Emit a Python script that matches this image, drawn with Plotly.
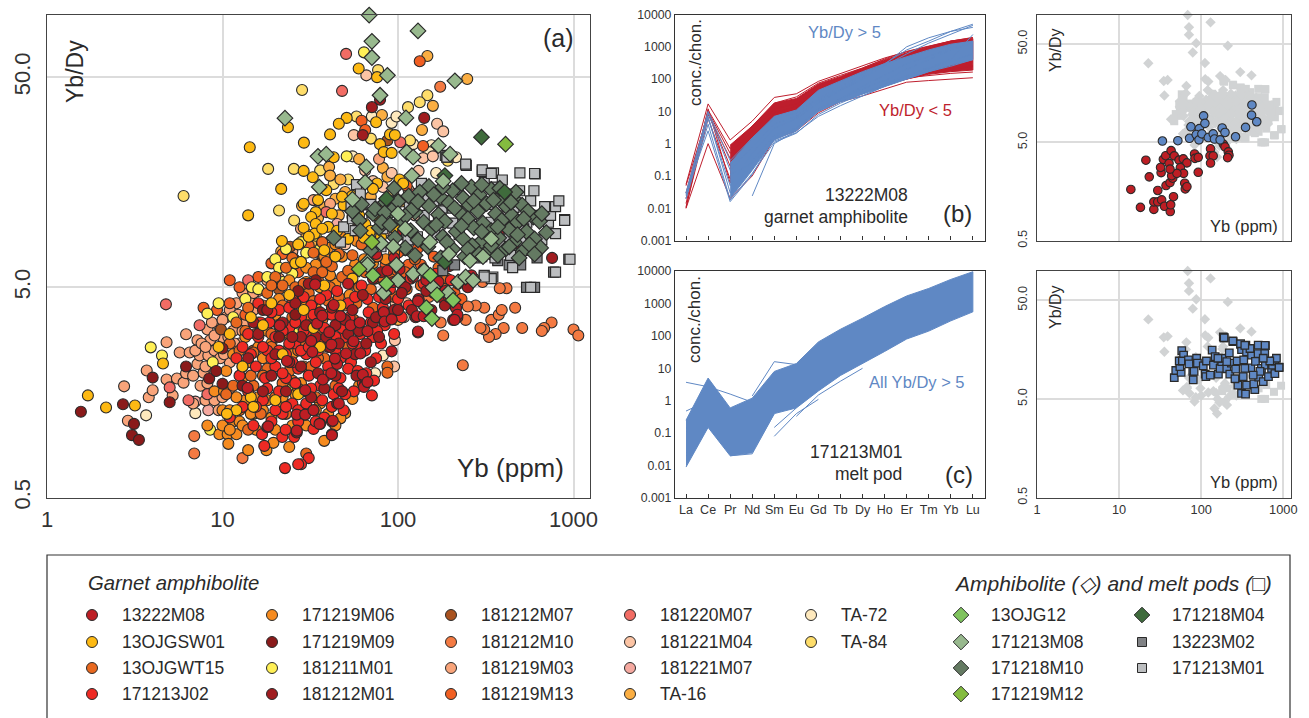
import plotly.graph_objects as go

W, H = 1309, 718
FONT = "Liberation Sans"
INK = "#2a2a2a"

# ---------- Panel (a): (Yb ppm, Yb/Dy) ----------
M08 = [(13.9,1.66),(18.2,1.09),(21.2,3.29),(23.3,2.23),(29.6,1.62),(26.5,1.04),(26.5,1.24),(29.6,1.24),(33,1.3),(35.7,1.12),
 (42,.99),(42.5,1.16),(46,1.4),(37.3,1.82),(41.7,1.95),(45,2.16),(43.7,2.29),(32.5,2.46),(32,2.78),(34.6,3.36),(37,3.66),
 (43,4.12),(47,3.64),(40.6,3.06),(53.7,3.3),(60.5,3.4),(67,3.09),(55.8,2.77),(61,2.42),(50.6,2.42),(41.7,2.67),(63,1.92),
 (64,1.68),(67,1.77),(83,3.81),(84,3.44),(92,3.52),(92,2.48),(130,4.3),(128,3.64),(140,3.64),(130,3.08),(186,4.8),(195,4.5),
 (214,4.0),(218,3.7),(210,3.5),
 (33.7,5.16),(52,5.2),(72,5.5),(75,7.2),(95,6.9),(87,6),(94,5.3),(102,6.1),(107,9.3),(111,7.8),(122,5.6),(140,6.1),(145,5.4),
 (170,5.3),(180,7),(195,6.3),(262,5.7),(347,7.1),(411,9.45),(415,12),(475,8.1)]
J02 = [(11,1.2),(12,2.3),(13,2.6),(12.5,1.9),(14,1.6),(14,3.0),(15,1.1),(15.5,2.1),(16,2.9),(16,4.2),(17,1.45),(17.5,1.85),(18,2.5),
 (18.5,3.4),(19,1.15),(20,2.1),(20,2.9),(21,1.6),(21,3.9),(22,1.25),(23,2.4),(23,1.85),(24,3.2),(25,4.4),(25,1.4),(26,2.7),(27,2.05),
 (27,1.15),(28,3.6),(29,1.6),(30,2.4),(30,2.95),(31,1.9),(32,4.1),(33,1.3),(34,2.2),(35,3.4),(36,1.7),(37,2.7),(38,1.2),(39,4.6),
 (40,2.1),(41,3.1),(43,1.55),(44,2.5),(46,3.7),(47,1.85),(49,1.3),(50,2.9),(52,4.2),(54,2.2),(56,1.6),(58,3.3),(60,2.6),(62,5.1),
 (66,1.95),(68,3.8),(72,2.9),(75,2.3),(78,4.5),(84,3.3),(90,4.9),(100,4.4),(118,5.5),(140,5.2),(165,5.8),(200,5.4),(71,1.53),(33,1.06),
 (31,.77),(28,.72),(22.7,.69),(27,.72),(17.3,.88),(16.8,1),(21.9,.97),(22.9,1.05),(25.6,.97),(42,1.15),
 (13,1.35),(14.5,2.4),(15.5,1.35),(16.5,3.4),(17,2.6),(18,1.65),(19,2.3),(19,3.8),(20,1.3),(21,2.5),(22,3.1),(22,1.95),(23,1.35),(24,2.7),(24,4),(25,2.2),
 (26,1.75),(26,3.4),(27,1.3),(28,2.5),(29,3.1),(29,4.5),(30,1.4),(31,2.6),(32,1.65),(33,3.7),(34,1.15),(35,2.5),(36,4.4),(37,1.45),(38,3.2),(39,1.9),(40,2.6),
 (42,1.35),(42,3.7),(44,2.9),(45,4.8),(46,1.65),(47,2.3),(48,3.2),(50,1.55),(52,2.05),(53,3.6),(55,2.7),(57,4.5),(59,2),(61,3),(63,1.75),(65,2.5),(67,4.4),
 (70,3.4),(73,1.8),(76,3.1),(80,2.7),(82,4),(88,3.7),(95,3),(105,3.6),(115,4.1),(160,4.7)]
M01_12 = [(16,3),(19,1.9),(22,3.4),(24,2.2),(28,2.9),(31,5.2),(36,3.8),(41,2.6),(44,1.9),(50,3.5),(57,2.4),(63,4.6),(72,3.4),(80,5.9),
 (95,3.9),(110,5),(126,3.6),(175,4.5),(206,3.5),(218,3.6),(214,4),(131,4.4),(130,3.05),(65,1.74),(62,1.9),(45,1.4),(42,1),(36,1.12),
 (18,1.08),(26.5,1.02),(755,6.9),(79,39),(71,36),(141,32),(63,26.5),(240,5.5),
 (14,2.3),(15,3.4),(17,1.6),(18,3.9),(20,2.4),(23,1.6),(25,2.9),(26,4.2),(28,2.1),(30,3.3),(32,1.5),(34,2.9),(35,1.95),(38,1.65),(39,2.9),(42,4),(44,3.3),
 (46,2.7),(48,1.6),(52,3),(55,3.9),(58,1.9),(60,3.1),(66,2.7),(70,2.2),(75,3.6),(78,2.9),(85,4.4),(100,3.9),(105,4.7),(120,3.9),(155,3.9),(145,4.8),(185,4.1),(250,5)]
M09 = [(1.56,1.28),(2.71,1.39),(3.13,1.12),(3.05,.99),(3.34,.94),(4,1.86),(5,1.42),(6.2,2.1),(8.4,1.84),(9.2,2),(10,1.74),(10,2.56),
 (13,1.7),(17,3.9),(21,2.9),(26,3.7),(27,4.8),(34,5.4)]
WT15 = [(10.5,1.55),(11,2.7),(12,3.4),(12.5,1.3),(13,2.1),(14,1.05),(14,4),(15,2.45),(15,1.7),(16,3.4),(16.5,1.25),(18,4.7),(18,2.05),
 (19,3),(20,1.5),(20,5.6),(21,2.4),(22,4.1),(23,1.25),(23,6.2),(24,3),(25,1.8),(26,5),(27,2.5),(28,6.6),(28,1.3),(30,3.6),(31,4.7),
 (32,2.1),(33,7.3),(34,1.5),(35,5.4),(36,3),(37,8.2),(38,2.3),(40,4.3),(42,6.3),(44,1.7),(45,3.3),(48,5.6),(52,2.6),(55,7.1),(58,4.2),
 (62,3.1),(65,5.9),(70,4.9),(76,7),(82,3.9),(90,5.5),(100,6.3),(112,4.9),(125,6.8),(145,5.6),(170,6.2),(30,.81),(87,2.1),(87,1.96),(25.6,6.8),
 (11.5,1.7),(12.5,2.5),(13.5,3.1),(14.5,1.9),(15.5,3),(17,4.1),(17,1.9),(19,2.6),(19,5.1),(21,3.3),(22,1.75),(22,5.1),(24,2),(25,3.6),(25,6.9),(27,4.4),(27,1.65),
 (29,5.2),(29,2.7),(31,3.3),(33,4.3),(33,5.9),(35,2.3),(37,3.5),(37,5.9),(39,6.6),(41,5),(43,2.9),(46,4.5),(46,7.2),(50,4.1),(52,6),(56,3.5),(60,5),(62,8),(68,6.5),
 (72,4),(80,5.6),(95,4.5),(105,5.2),(135,5.1),(155,5),(190,5.5)]
M06 = [(8.2,1.1),(9.6,1),(10.7,1),(10.8,.9),(14,.84),(17.8,.84),(19.5,.91),(24,.87),(38,.93),(50,1.26),(47,1.19),(55,1.47),(9,1.6),(10,1.3),
 (10.5,2),(11.5,1.15),(11.5,2.4),(12,1),(13.5,1.45),(13.5,2.9),(15,1.25),(17,2.3),(17,1.3),(18,3.1),(19,1.2),(21,4.4),(22,1.5),(24,5.4),
 (24,2.6),(26,1.55),(27,3.4),(29,2.1),(30,5.3),(32,3.3),(34,6.4),(36,1.4),(39,3.7),(40,7.7),(42,2.2),(44,5.2),(47,8.8),(50,2.7),(53,4.6),
 (57,6.4),(60,1.7),(66,7.9),(74,5.5),(85,6.8),(14,2.2),(12,1.5),
 (10.2,1.6),(11,1.3),(12.5,1.15),(13,1.85),(14.5,1.25),(16,1.5),(16,2.6),(18,1.45),(19,2.7),(20,3.7),(21,1.35),(23,3),(25,2.4),(26,4.6),(28,1.75),(28,4.2),(30,6.2),
 (32,2.6),(34,4),(36,5),(38,7),(41,5.7),(44,8),(48,7),(52,5.3),(58,8.3),(64,6.8),(72,6.5),(95,7.3),
 (10,1.1),(11,1.05),(13,1.1),(15.5,1.05),(20,1.05),(25,1.1),(30,1.1),(34,1.3),(40,1.25),(44,1.1)]
M10_12 = [(6.9,.81),(6.9,.98),(13,.77),(234,2.13),(1000,3.15),(1065,2.95),(750,3.4),(680,3.2),(660,3.1),(510,3.2),(465,4),(400,3.2),(360,3),
 (330,2.9),(310,3.15),(295,3.2),(340,3.5),(375,3.7),(390,3.9),(310,4),(277,4.1),(250,4.05),(415,4.95),(380,4.95),(181,2.95),(175,3.4),
 (243,3.5),(303,5.3),(174,45),(150,4.5),(220,5.2),(270,5.5)]
M13 = [(133,59.5),(62,31),(65,28),(139,23.5),(112,15.2),(7.8,4),(11,5.4),(12.5,5),(11,4.2),(9.3,3.9),(13.5,3.7),(16,5.6),(19,6.5),(22,7.2),
 (27,5.9),(31,7.9),(37,6.7),(45,9.2),(60,9.7),(70,8.4),(85,6.4),(130,7.7),
 (100,7.3),(115,6.4),(135,6.4),(160,5.5),(180,5),(210,4.7),(230,4.4),(95,5.9),(110,5.9),(160,7)]
M03 = [(2.75,1.69),(2.89,1.16),(3.8,1.5),(4,1.62),(3.7,2.01),(4.8,2.74),(4.8,1.82),(5.5,1.84),(6,1.76),(6.2,1.95),(5.2,1.53),(6.8,1.4),(5.7,2.45),
 (6.5,2.45),(6.2,2.99),(7.2,2.8),(8.2,3.15),(7.2,2.16),(7.4,2.37),(8.3,2.37),(7.8,1.96),(8.5,2.8),(9,2.5),(9.5,3.3),(10,2.9),(10.5,3.6),(11,2.2),
 (11.5,3.1),(12.5,2.7),(12,4.2),(13.5,3.4),(15,3.9),(8,1.45),(9.5,1.3),(13,4.7),(16,4.8),(18,5.4),(21,5.5),(25,7.4),(78,20.4),(41,12.5),(33,13),(28,9.5),
 (7,2.5),(7.6,2.7),(8,2.1),(8.7,3.4),(9,2.95),(9.7,2.3),(10,3.5),(10.2,2.4),(10.8,2.9),(11,3.9),(11.7,2.7),(12.3,3.7),(13,3.1),(14,3.7),(14.5,4.4),(15,4.7),
 (6.8,1.9),(7.5,1.7),(8.2,1.75),(9,1.45),(10,1.5),(11,1.65),(8,2.6)]
M20_07 = [(4.76,4.15),(5,1.67),(6.4,1.45),(7.4,3.3),(14,5.4),(50.6,64.5),(48,43),(103,24.5),(39,11.4),(125,13.9),(80,10),(68,7.7),(8.2,1.55)]
M21_07 = [(7,1.43),(8.3,1.3),(45,10),(9,2),(60,12)]
M21_04 = [(66,51),(167,30),(181,27.6),(56,26.5),(139,20.6),(158,21),(131,17.9),(97,4.2),(112,4.2),(96,2.8),(95,2.1),(65,18),(82,15),(100,13),(50,8),(75,12),
 (85,9.3),(95,8.8),(110,7.5),(120,8.8),(60,14.5),(72,16),(92,17.5),(115,14.5),(125,11)]
M12_07 = [(24.3,7.8),(87,25),(9.8,3.15),(21,4.9),(36,6.5),(55,5.2),(15,2.5)]
TA16 = [(21.6,7.4),(28.4,12.2),(40.5,18.7),(41,17),(47,16.3),(82,18.5),(87,16.8),(50,14.2),(60,20.4),(100,3.5),(147,63),(248,49),(158,36.5),(137,28),
 (81,33),(18,.5),(30,9),(46,11),(58,9.5),(70,13.5),(90,10),(110,9.5),(32,8.1),(35,10.7),(38,12),(44,13.2),(52,12.4),(65,12.4),(78,11.7),(92,12.4),(105,12.8)]
TA72 = [(3.67,1.23),(7,1.26),(71,32.5),(92,30.3),(98,32.5),(122,24),(155,23.7),(214,20.8),(165,17.5),(108,3.6),(82,2.37),(74,1.95),(55,21),(150,22),(75,2.9),(60,1.9)]
TA84 = [(28.4,43.4),(18.2,18.3),(25.5,18.3),(6,13.6),(21,11.6),(25.6,10.4),(77,54),(147,41),(133,38),(114,36),(58,32.5),(70,25.5),(117,25),(192,20),(36,18),(43,15.5),(52,16.3),(94,14)]
GSW = [(1.71,1.53),(2.17,1.34),(3.17,1.37),(4.58,2.17),(23.6,28.9),(14.3,23.2),(29.1,24.4),(29,17.9),(32.7,16.7),(21.6,14.7),(14,11),(29,9.6),(34,11.4),(21.8,8.3),
 (59.7,55),(76,50),(51,32),(46,30),(75,30.5),(41,26.7),(90,26.7),(96,26.5),(79,24),(43,20.8),(83,22),(92,21.8),(102,16.3),(76,15.6),(72,14.7),(107,15.6),(54.7,13.6),
 (49,12.3),(32,10.8),(34,10),(33.5,9),(9.5,2.6),(11,3),(12,1.3),(13,2.1),(14.5,1.5),(15,1.35),(17,3.3),(19,4.2),(24,4.6),(22,2.4),(29,3.9),(31,8.7),(36,2.6),(40,9.7),
 (44,7),(55,5.5),(38,5.1),(27,1.55),(10.6,1.25),(14.5,3.6),(20,1.45),(26,6.5),(33,3.2),(47,4.1),(64,8.6),
 (27,8),(29,12.5),(35,13),(37,9.5),(39,14.5),(42,11.2),(45,9.3),(48,13.5),(52,8.5),(55,10.8),(60,11),(65,10),(70,9.3),(75,11),(80,8.7),(85,12),(95,9.6),(38,7.5),(28,6.6)]
YEL = [(64,65.6),(51,21),(3.9,2.59),(4.52,2.37),(8.2,3.75),(8.8,2.2),(9.5,4.2),(14.7,5),(13.5,4.4),(11.5,3.6),(18,5.6),(20,6.8),(21,6.2),(25,5.8),(30,7.3),(34,8.8),(26,3),(24,1.7),(40,6),(8.5,1.05),
 (23,7.6),(28,8.2),(36,7.6),(22,5.3),(16,4.9)]
M_13223 = [(540,5),(600,5),(770,5.9),(940,6.8),(620,6.9),(500,6.4),(370,6.7),(210,6.4),(180,6),(430,6.4),(300,7)]
M_171213 = [(47,8.2),(49,9.7),(57,9.3),(55,10.6),(58,15.4),(54,12.1),(61,13.9),(59,12.1),(70,12.4),(71,11.3),(79,9.5),(82,9.5),(80,7.8),(88,12.9),(90,11.5),
 (106,10.8),(112,8.9),(114,8.4),(116,12.1),(129,8.7),(136,15.6),(141,11),(148,13.4),(162,8.9),(170,10.2),(178,11.9),(186,21.2),(190,20.8),(182,12.9),(205,10.1),
 (220,14.6),(223,8.9),(233,11.5),(245,19),(263,10),(274,12.1),(280,6.9),(302,17.8),(310,15.8),(310,5.7),(347,5.6),(330,12.4),(350,17.5),(357,15),(357,6.9),(402,10.3),
 (411,13.9),(450,6.2),(438,7.1),(458,12),(493,14.4),(502,8.3),(542,10.2),(570,7.5),(595,14.4),(605,17.3),(605,11),(660,8.4),(720,10.2),(740,11),(790,12.1),(790,9),
 (890,10.5),(825,12.9),(685,12.1),(520,9.5),(430,8.7),(325,8.4),(258,8),(205,11.9),(160,12.9),(340,10.2),(495,17.5),(393,16.2),(570,12.9),
 (243,19.3),(302,18.1),(190,20.8),(340,17.4),(600,17.4),(890,10.4),(570,5),(790,5.9),(955,6.8),(340,5.5),(310,5.6)]
M18_10 = [(150,15.1),(205,14.4),(262,15),(340,14.6),(405,13.8),(115,13.6),(133,14.2),(175,13.4),(235,13.3),(290,13.8),(375,13.2),(460,13.1),(62,12.4),(85,12.7),(100,12.8),
 (150,12.2),(195,12.6),(255,12.3),(320,12.5),(415,12.1),(510,12.3),(55,11.5),(72,11.2),(92,11.6),(125,11.4),(170,11.1),(225,11.3),(285,11.5),(360,11.2),(445,11),(590,10.8),
 (60,10.4),(105,10.5),(140,10.2),(185,10.3),(250,10.6),(305,10.1),(390,10.4),(480,10.2),(640,10.3),(61,9.3),(78,9.6),(118,9.3),(155,9.5),(215,9.2),(270,9.6),(340,9.3),
 (430,9.4),(540,9.2),(700,9.1),(43,8.6),(96,8.6),(130,8.4),(180,8.7),(235,8.5),(300,8.3),(375,8.6),(460,8.2),(600,8.5),(70,7.5),(110,7.7),(148,7.8),(205,7.6),(265,7.9),
 (330,7.5),(410,7.6),(520,7.5),(650,7.7),(125,7.1),(175,6.9),(240,7.0),(290,7.2),(370,7.1),(490,6.9),(74,11.8),(84,11.3),(81,10.2),(120,11.7),
 (95,14.8),(180,15),(230,15.6),(300,15.4),(380,14.8),(470,14.2),(550,11.5),(660,11.2),(520,10.6),(440,12.7),(350,13),(270,12.9),(210,11.9),(160,13.8),(130,12.8),(110,10.9),
 (165,9.9),(230,9.8),(300,9.2),(370,9.7),(480,8.9),(560,8),(190,8.2),(250,7.6),(90,9.9),(600,7.2),(340,7.9),(430,7.8)]
M13_08 = [(22.7,31.9),(68.5,98.7),(130,83),(71,74),(71,62),(87,51),(211,48),(79,41),(111,32),(170,23.6),(198,21.5),(112,22),(122,20.8),(35,21),(39,21.5),(66,18.7),(35.6,15),
 (65,15.8),(181,16),(120,17),(55,13.1),(100,11.2),(110,9.5),(152,8.2),(340,8.5),(94,7.8),(80,8.1),(195,7.2),(257,6.7),(305,7),(67,6.6),(67,6.4),(98,6.4),(100,5.4),(83,4.7),
 (122,5.8),(141,6),(220,5.3),(243,5.6),(268,5.4),(193,4.7),(158,5)]
OJG12 = [(72,5.7),(86,5.2),(153,5.7),(167,4.6),(206,4.35),(145,4),(156,3.55)]
M19_12 = [(410,24),(60,6.1),(71,8.2)]
M18_04 = [(299,25.9),(86,13.2),(405,14.2),(185,17),(185,6.6)]

# ---------- Panels (b), (c): chondrite-normalised REE patterns ----------
ELEMENTS = ["La","Ce","Pr","Nd","Sm","Eu","Gd","Tb","Dy","Ho","Er","Tm","Yb","Lu"]
B_RED_BAND_TOP = [None,None,.9,3.5,18,25,70,120,220,400,650,1000,1500,1800]
B_RED_BAND_LOW = [None,None,.06,.4,2,3.5,12,25,40,70,100,140,170,190]
B_BLUE_BAND_TOP = [None,None,.25,1.5,7,11,45,90,170,300,500,800,1200,1500]
B_BLUE_BAND_LOW = [None,None,.02,.15,1.3,2.5,10,20,35,60,100,170,270,400]
B_RED_LINES = [
 [.055,17,1.3,5,27,35,85,150,250,450,700,1000,1500,1900],
 [.01,1,.02,.1,1.4,2.5,9,20,30,50,80,90,100,110],
 [.01,11,.7,3.5,18,28,75,130,220,420,720,1050,1500,1950],
 [.05,8,.35,1.5,9,14,40,70,110,170,240,300,370,430],
 [.011,6,.08,.5,3,5,15,30,50,80,110,130,150,165],
 [.03,10,.5,2.5,12,17,45,80,120,180,230,270,310,340],
 [.02,9,.2,1,4,6,20,40,65,110,150,180,210,240],
 [.014,12,.06,.6,2.5,3.5,11,22,38,65,100,150,200,260]]
B_BLUE_LINES = [
 [.03,10,.3,1.5,6,9,25,60,140,300,800,1500,3000,5000],
 [.025,9,.15,.8,4,7,22,50,120,260,600,1300,2500,4600],
 [.02,6,.05,.5,3,6,18,45,100,280,1000,1900,3000,4000],
 [.03,2.5,.016,.11,1.6,3,12,25,50,90,200,400,800,1300],
 [None,None,None,.024,1,2.5,10,20,30,60,100,170,250,400],
 [None,None,.11,.25,1.2,2.2,7,15,30,60,120,210,350,600],
 [.028,7,.03,.3,1.8,3,10,25,60,130,300,500,900,1400],
 [.02,4,.018,.12,1.1,2.1,8,18,35,70,130,230,400,2400]]
C_BAND_TOP = [.25,5,.6,1.2,8,14,65,160,350,800,1700,2900,5500,9500]
C_BAND_LOW = [.009,.15,.02,.025,.4,.6,2,6,14,33,80,140,290,550]
C_OUTLIERS = [[3.7,2.7,1.6,.9,None,None,None,None,None,None,None,None,None,None],
 [None,None,None,1.4,16,13,None,None,None,None,None,None,None,None],
 [.48,1,None,None,None,None,None,None,None,None,None,None,None,None],
 [None,None,None,None,.08,.4,1.1,None,None,None,None,None,None,None],
 [None,None,None,None,None,.33,1.5,4,10,None,None,None,None,None],
 [None,None,.02,.023,.4,None,None,None,None,None,None,None,None,None],
 [None,None,None,None,.15,.6,None,None,None,None,None,None,None,None]]

CIRCLES = [("TA-72",TA72,"#fee9bd"),("TA-84",TA84,"#fedd6a"),("TA-16",TA16,"#fbae42"),("181221M07",M21_07,"#f5a9a0"),("181221M04",M21_04,"#fcc4a4"),
 ("181219M03",M03,"#f9a47a"),("181219M13",M13,"#f15f22"),("181212M10",M10_12,"#f47a42"),("181220M07",M20_07,"#f26c64"),("181212M07",M12_07,"#a9521f"),
 ("181211M01",YEL,"#fff056"),("171219M06",M06,"#f68b1f"),("13OJGWT15",WT15,"#e8681f"),("171213J02",J02,"#ee2a24"),("171219M09",M09,"#8a1a1a"),
 ("181212M01",M01_12,"#a01c1f"),("13OJGSW01",GSW,"#fdb913"),("13222M08",M08,"#bd1e24")]
OTHERS = [("13223M02",M_13223,"#808285","square"),("171213M01",M_171213,"#bcbec0","square"),("171218M10",M18_10,"#647a62","diamond"),
 ("171218M04",M18_04,"#3f6b3c","diamond"),("171213M08",M13_08,"#98b98e","diamond"),("13OJG12",OJG12,"#7fc35e","diamond"),("171219M12",M19_12,"#84bc3f","diamond")]

LEG_LEFT = [["13222M08","13OJGSW01","13OJGWT15","171213J02"],["171219M06","171219M09","181211M01","181212M01"],
 ["181212M07","181212M10","181219M03","181219M13"],["181220M07","181221M04","181221M07","TA-16"],["TA-72","TA-84"]]
LEG_RIGHT = [["13OJG12","171213M08","171218M10","171219M12"],["171218M04","13223M02","171213M01"]]
COLOR = {n: c for n, _, c in CIRCLES}
COLOR.update({n: c for n, _, c, _ in OTHERS})
SYMBOL = {n: s for n, _, _, s in OTHERS}

fig = go.Figure()

def xs(p): return [v[0] for v in p]
def ys(p): return [v[1] for v in p]
def dom_x(a, b): return [a / W, b / W]
def dom_y(a, b): return [1 - b / H, 1 - a / H]

def pts(p, color, symbol, size, ax, lw=1.1, line=INK):
    fig.add_trace(go.Scatter(x=xs(p), y=ys(p), mode="markers", xaxis="x" + ax, yaxis="y" + ax, cliponaxis=False, showlegend=False,
        marker=dict(color=color, symbol=symbol, size=size, line=dict(color=line, width=lw))))

def ree(y, color, ax, width=1.0):
    fig.add_trace(go.Scatter(x=ELEMENTS, y=y, mode="lines", xaxis="x" + ax, yaxis="y" + ax, showlegend=False, line=dict(color=color, width=width)))

def band(top, low, color, ax):
    pairs_t = [(e, v) for e, v in zip(ELEMENTS, top) if v is not None]
    pairs_l = [(e, v) for e, v in zip(ELEMENTS, low) if v is not None]
    poly = pairs_t + pairs_l[::-1]
    fig.add_trace(go.Scatter(x=[p[0] for p in poly], y=[p[1] for p in poly], mode="lines", fill="toself", fillcolor=color, xaxis="x" + ax, yaxis="y" + ax,
        showlegend=False, line=dict(color=color, width=1)))

# Panel a
for name, p, c in CIRCLES:
    pts(p, c, "circle", 11, "")
for name, p, c, s in OTHERS:
    pts(p, c, s, 10 if s == "square" else 12, "", 1.2)

# Panel b
RED, BLUE = "#be1e2d", "#5f88c4"
band(B_RED_BAND_TOP, B_RED_BAND_LOW, RED, "2")
for l in B_RED_LINES: ree(l, RED, "2")
band(B_BLUE_BAND_TOP, B_BLUE_BAND_LOW, BLUE, "2")
for l in B_BLUE_LINES: ree(l, BLUE, "2")

# Panel c
band(C_BAND_TOP, C_BAND_LOW, BLUE, "3")
for l in C_OUTLIERS: ree(l, BLUE, "3")

# Panel d
GREY = "#d1d3d4"
for name, p, c, s in OTHERS:
    pts(p, GREY, s, 8, "4", 0, GREY)
pts([v for v in M08 if v[1] < 5], "#bd1e24", "circle", 8.5, "4", 1.1)
pts([v for v in M08 if v[1] >= 5], "#5f88c4", "circle", 8.5, "4", 1.1)

# Panel e
for name, p, c, s in OTHERS:
    if name not in ("171213M01", "171218M10"):
        pts(p, GREY, s, 8, "5", 0, GREY)
pts(M_171213[:-5], "#5f88c4", "square", 7.5, "5", 1.3)

# Legend markers drawn on a page-sized hidden axis
LEFT_COLS = [92, 272, 451, 630, 811]
RIGHT_COLS = [961, 1142]
ROWS = [615, 642, 668, 694]
for cols, table in ((LEFT_COLS, LEG_LEFT), (RIGHT_COLS, LEG_RIGHT)):
    for cx, names in zip(cols, table):
        for ry, n in zip(ROWS, names):
            sym = SYMBOL.get(n, "circle")
            sz = {"circle": 11, "square": 9, "diamond": 12}[sym]
            fig.add_trace(go.Scatter(x=[cx], y=[ry], mode="markers", xaxis="x6", yaxis="y6", showlegend=False,
                marker=dict(color=COLOR[n], symbol=sym, size=sz, line=dict(color=INK, width=1))))

ann = []
def note(x, y, t, size, anchor="left", color=INK, angle=0):
    shift = {"left": -2, "right": 2, "center": 0}[anchor]
    ann.append(dict(x=(x + shift) / W, y=1 - y / H, xref="paper", yref="paper", text=t, showarrow=False, xanchor=anchor, yanchor="middle",
                    textangle=angle, font=dict(family=FONT, size=size, color=color)))

for cols, table in ((LEFT_COLS, LEG_LEFT), (RIGHT_COLS, LEG_RIGHT)):
    for cx, names in zip(cols, table):
        for ry, n in zip(ROWS, names):
            note(cx + 30, ry, n, 17.5)
note(88, 583, "<i>Garnet amphibolite</i>", 20.3)
note(954, 583, "<i>Amphibolite (◇) and melt pods (□)</i>", 21)

note(75, 72, "Yb/Dy", 23, "center", INK, -90)
note(574, 38, "(a)", 25, "right")
note(564, 468, "Yb (ppm)", 26, "right")

note(695, 63, "conc./chon.", 17, "center", INK, -90)
note(845, 32, "Yb/Dy > 5", 16.5, "center", BLUE)
note(915, 110, "Yb/Dy < 5", 16.5, "center", RED)
note(908, 195, "13222M08", 17.5, "right")
note(908, 217, "garnet amphibolite", 17.5, "right")
note(972, 214, "(b)", 24, "right")

note(695, 320, "conc./chon.", 17, "center", INK, -90)
note(965, 382, "All Yb/Dy > 5", 16.5, "right", BLUE)
note(902, 452, "171213M01", 17.5, "right")
note(902, 474, "melt pod", 17.5, "right")
note(973, 474, "(c)", 24, "right")

note(1055, 50, "Yb/Dy", 16, "center", INK, -90)
note(1278, 226, "Yb (ppm)", 16.5, "right")
note(1055, 307, "Yb/Dy", 16, "center", INK, -90)
note(1278, 482, "Yb (ppm)", 16.5, "right")

X_TICKS = [1, 10, 100, 1000]
Y_TICKS = [0.5, 5, 50]
Y_TEXT = ["0.5", "5.0", "50.0"]
REE_TICKS = [0.001, 0.01, 0.1, 1, 10, 100, 1000, 10000]
REE_TEXT = ["0.001", "0.01", "0.1", "1", "10", "100", "1000", "10000"]
XR, YR = [0, 3.094], [-0.301, 1.997]

def sc_axes(xd, yd, size, grid_w, show_x, off_x, off_y):
    xa = dict(type="log", domain=xd, range=XR, tickvals=X_TICKS, ticktext=[str(v) for v in X_TICKS], showticklabels=show_x, ticks="", showgrid=True,
              gridcolor="#dcdcdc", gridwidth=grid_w, zeroline=False, showline=True, linecolor="#444", linewidth=1.4, mirror=True, automargin=False,
              ticklabelstandoff=off_x, tickfont=dict(family=FONT, size=size, color="#333"))
    ya = dict(type="log", domain=yd, range=YR, tickvals=Y_TICKS, ticktext=Y_TEXT, tickangle=-90, ticks="", showgrid=True,
              gridcolor="#dcdcdc", gridwidth=grid_w, zeroline=False, showline=True, linecolor="#444", linewidth=1.4, mirror=True, automargin=False,
              ticklabelstandoff=off_y, tickfont=dict(family=FONT, size=size, color="#333"))
    return xa, ya

def ree_axes(xd, yd, show_x):
    xa = dict(type="category", categoryorder="array", categoryarray=ELEMENTS, domain=xd, range=[-0.5, 13.55], ticks="inside", ticklen=4, tickcolor="#333",
              showticklabels=show_x, showgrid=False, zeroline=False, showline=True, linecolor="#333", linewidth=1.2, mirror=True, automargin=False,
              tickfont=dict(family=FONT, size=12.5, color="#333"))
    ya = dict(type="log", domain=yd, range=[-3, 4], tickvals=REE_TICKS, ticktext=REE_TEXT, ticks="", showgrid=False, zeroline=False, automargin=False,
              showline=True, linecolor="#333", linewidth=1.2, mirror=True, tickfont=dict(family=FONT, size=12.3, color="#333"))
    return xa, ya

xa1, ya1 = sc_axes(dom_x(47, 590), dom_y(14.5, 497.5), 22, 1.5, True, 2, 7)
xa2, ya2 = ree_axes(dom_x(675, 985), dom_y(14.5, 240.5), False)
xa3, ya3 = ree_axes(dom_x(675, 985), dom_y(271, 498), True)
xa4, ya4 = sc_axes(dom_x(1037, 1291), dom_y(14.7, 240.7), 12.8, 2, False, 0, 4)
xa5, ya5 = sc_axes(dom_x(1037, 1291), dom_y(270.7, 497.7), 12.8, 2, True, 0, 4)
for i, (xa, ya) in enumerate([(xa1, ya1), (xa2, ya2), (xa3, ya3), (xa4, ya4), (xa5, ya5)]):
    s = "" if i == 0 else str(i + 1)
    ya["anchor"] = "x" + s
    xa["anchor"] = "y" + s
    fig.update_layout(**{"xaxis" + s: xa, "yaxis" + s: ya})

fig.update_layout(
    template="none",
    xaxis6=dict(domain=[0, 1], range=[0, W], visible=False, anchor="y6", fixedrange=True, automargin=False),
    yaxis6=dict(domain=[0, 1], range=[H, 0], visible=False, anchor="x6", fixedrange=True, automargin=False),
    width=W, height=H, autosize=False, margin=dict(l=0, r=0, t=0, b=0), paper_bgcolor="white", plot_bgcolor="rgba(0,0,0,0)",
    showlegend=False, annotations=ann,
    shapes=[dict(type="rect", xref="paper", yref="paper", x0=47 / W, x1=1290 / W, y0=-0.02, y1=1 - 555 / H, line=dict(color="#333", width=1.2), fillcolor="rgba(0,0,0,0)")],
    font=dict(family=FONT, color=INK))

fig.write_html("out.html", config={"displayModeBar": False}, post_script="document.body.style.margin='0';document.documentElement.style.overflow='hidden';")
